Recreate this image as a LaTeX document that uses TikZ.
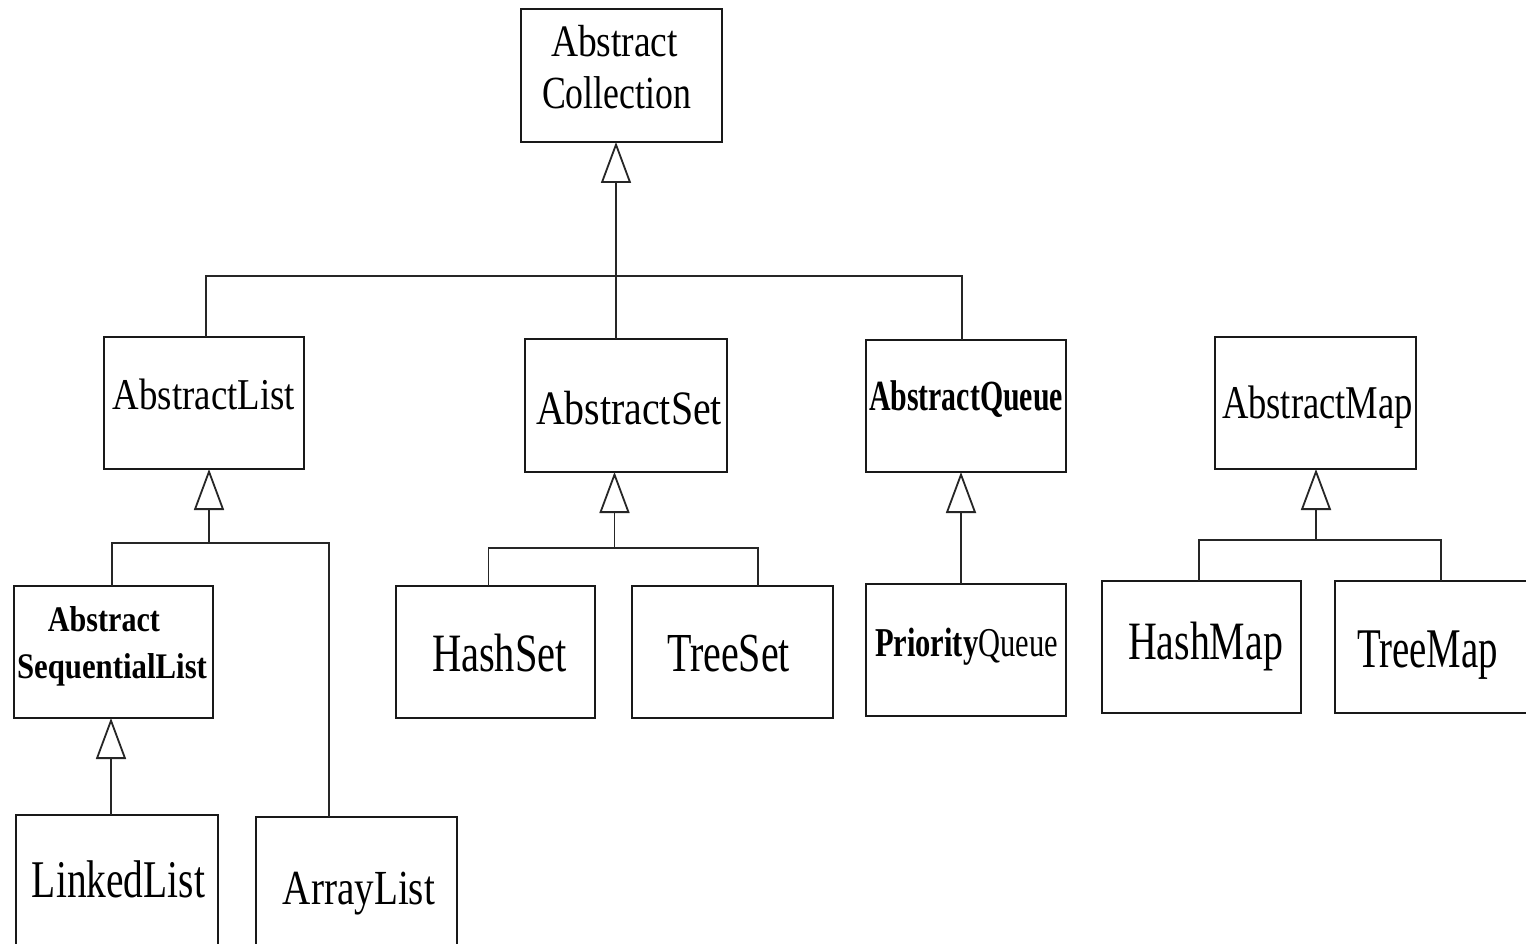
\documentclass[tikz,border=0pt]{standalone}
\usepackage{fontspec}
\setmainfont{Liberation Serif}
\usepackage{graphicx}
\usetikzlibrary{arrows.meta,calc}
\newcommand\wtxt[3]{\resizebox{#2pt}{\height}{\fontsize{#1}{#1}\selectfont #3}}
\tikzset{
  box/.style={draw=black!90, line width=2.2pt, inner sep=0pt, outer sep=0pt, fill=none},
  txt/.style={inner sep=0pt, outer sep=0pt, anchor=base},
  conn/.style={draw=black!85, line width=1.8pt},
  inh/.style={conn, -{Triangle[open, length=41pt, width=30pt, line width=1.8pt]}}
}
\begin{document}
\begin{tikzpicture}[x=1pt,y=-1pt]
\fill[white] (0,0) rectangle (1526,944);
\useasboundingbox (0,0) rectangle (1526,944);

% boxes
\node[box, minimum width=201pt, minimum height=133pt] (ac) at (621.5,75.5) {};
\node[box, minimum width=200pt, minimum height=132pt] (al) at (204,403) {};
\node[box, minimum width=202pt, minimum height=133pt] (as) at (626,405.5) {};
\node[box, minimum width=200pt, minimum height=132pt] (aq) at (966,406) {};
\node[box, minimum width=201pt, minimum height=132pt] (am) at (1315.5,403) {};
\node[box, minimum width=199pt, minimum height=132pt] (asl) at (113.5,652) {};
\node[box, minimum width=199pt, minimum height=132pt] (hs) at (495.5,652) {};
\node[box, minimum width=201pt, minimum height=132pt] (ts) at (732.5,652) {};
\node[box, minimum width=200pt, minimum height=132pt] (pq) at (966,650) {};
\node[box, minimum width=199pt, minimum height=132pt] (hm) at (1201.5,647) {};
\node[box, minimum width=200pt, minimum height=132pt] (tm) at (1435,647) {};
\node[box, minimum width=202pt, minimum height=150pt] (ll) at (117,890) {};
\node[box, minimum width=201pt, minimum height=148pt] (arl) at (356.5,891) {};

% texts
\node[txt] (ac-t1) at (614.5,57) {\wtxt{45}{127}{Abstract}};
\node[txt] (ac-t2) at (616.5,109) {\wtxt{46}{149}{Collection}};
\node[txt] (al-t) at (204,409) {\wtxt{44}{182}{AbstractList}};
\node[txt] (as-t) at (629,424) {\wtxt{48}{186}{AbstractSet}};
\node[txt] (aq-t) at (966,410) {\wtxt{43}{194}{\bfseries AbstractQueue}};
\node[txt] (am-t) at (1317.5,418) {\wtxt{47}{191}{AbstractMap}};
\node[txt] (asl-t1) at (104,631) {\wtxt{36}{112}{\bfseries Abstract}};
\node[txt] (asl-t2) at (112,678) {\wtxt{36}{190}{\bfseries SequentialList}};
\node[txt] (hs-t) at (499.5,671) {\wtxt{54}{135}{HashSet}};
\node[txt] (ts-t) at (728.5,671) {\wtxt{55}{123}{TreeSet}};
\node[txt] (pq-t) at (966.5,656) {\wtxt{41}{183}{\textbf{Priority}Queue}};
\node[txt] (hm-t) at (1205.5,659) {\wtxt{54}{155}{HashMap}};
\node[txt] (tm-t) at (1427.5,667) {\wtxt{56}{141}{TreeMap}};
\node[txt] (ll-t) at (118.5,897) {\wtxt{53}{173}{LinkedList}};
\node[txt] (arl-t) at (359,904) {\wtxt{49}{152}{ArrayList}};

% junctions
\coordinate (j1) at (616,276);
\coordinate (j2) at (209,543);
\coordinate (j3) at (614.5,548);
\coordinate (j5) at (1316,540);

% connectors
\draw[conn] ($(al.north)+(2,0)$) |- (j1) -| ($(aq.north)+(-4,0)$);
\draw[inh] (as.north -| j1) -- (ac.south -| j1);

\draw[inh] (j2) -- (al.south -| j2);
\draw[conn] ($(asl.north)+(-1.5,0)$) |- (j2) -| ($(arl.north)+(-27.5,0)$);

\draw[inh] (j3) -- (as.south -| j3);
\draw[conn] ($(hs.north)+(-7,0)$) |- (j3) -| ($(ts.north)+(25.5,0)$);

\draw[inh] ($(pq.north)+(-5,0)$) -- ($(aq.south)+(-5,0)$);

\draw[inh] (j5) -- (am.south -| j5);
\draw[conn] ($(hm.north)+(-2.5,0)$) |- (j5) -| ($(tm.north)+(6,0)$);

\draw[inh] ($(ll.north)+(-6,0)$) -- ($(asl.south)+(-2.5,0)$);
\end{tikzpicture}
\end{document}
